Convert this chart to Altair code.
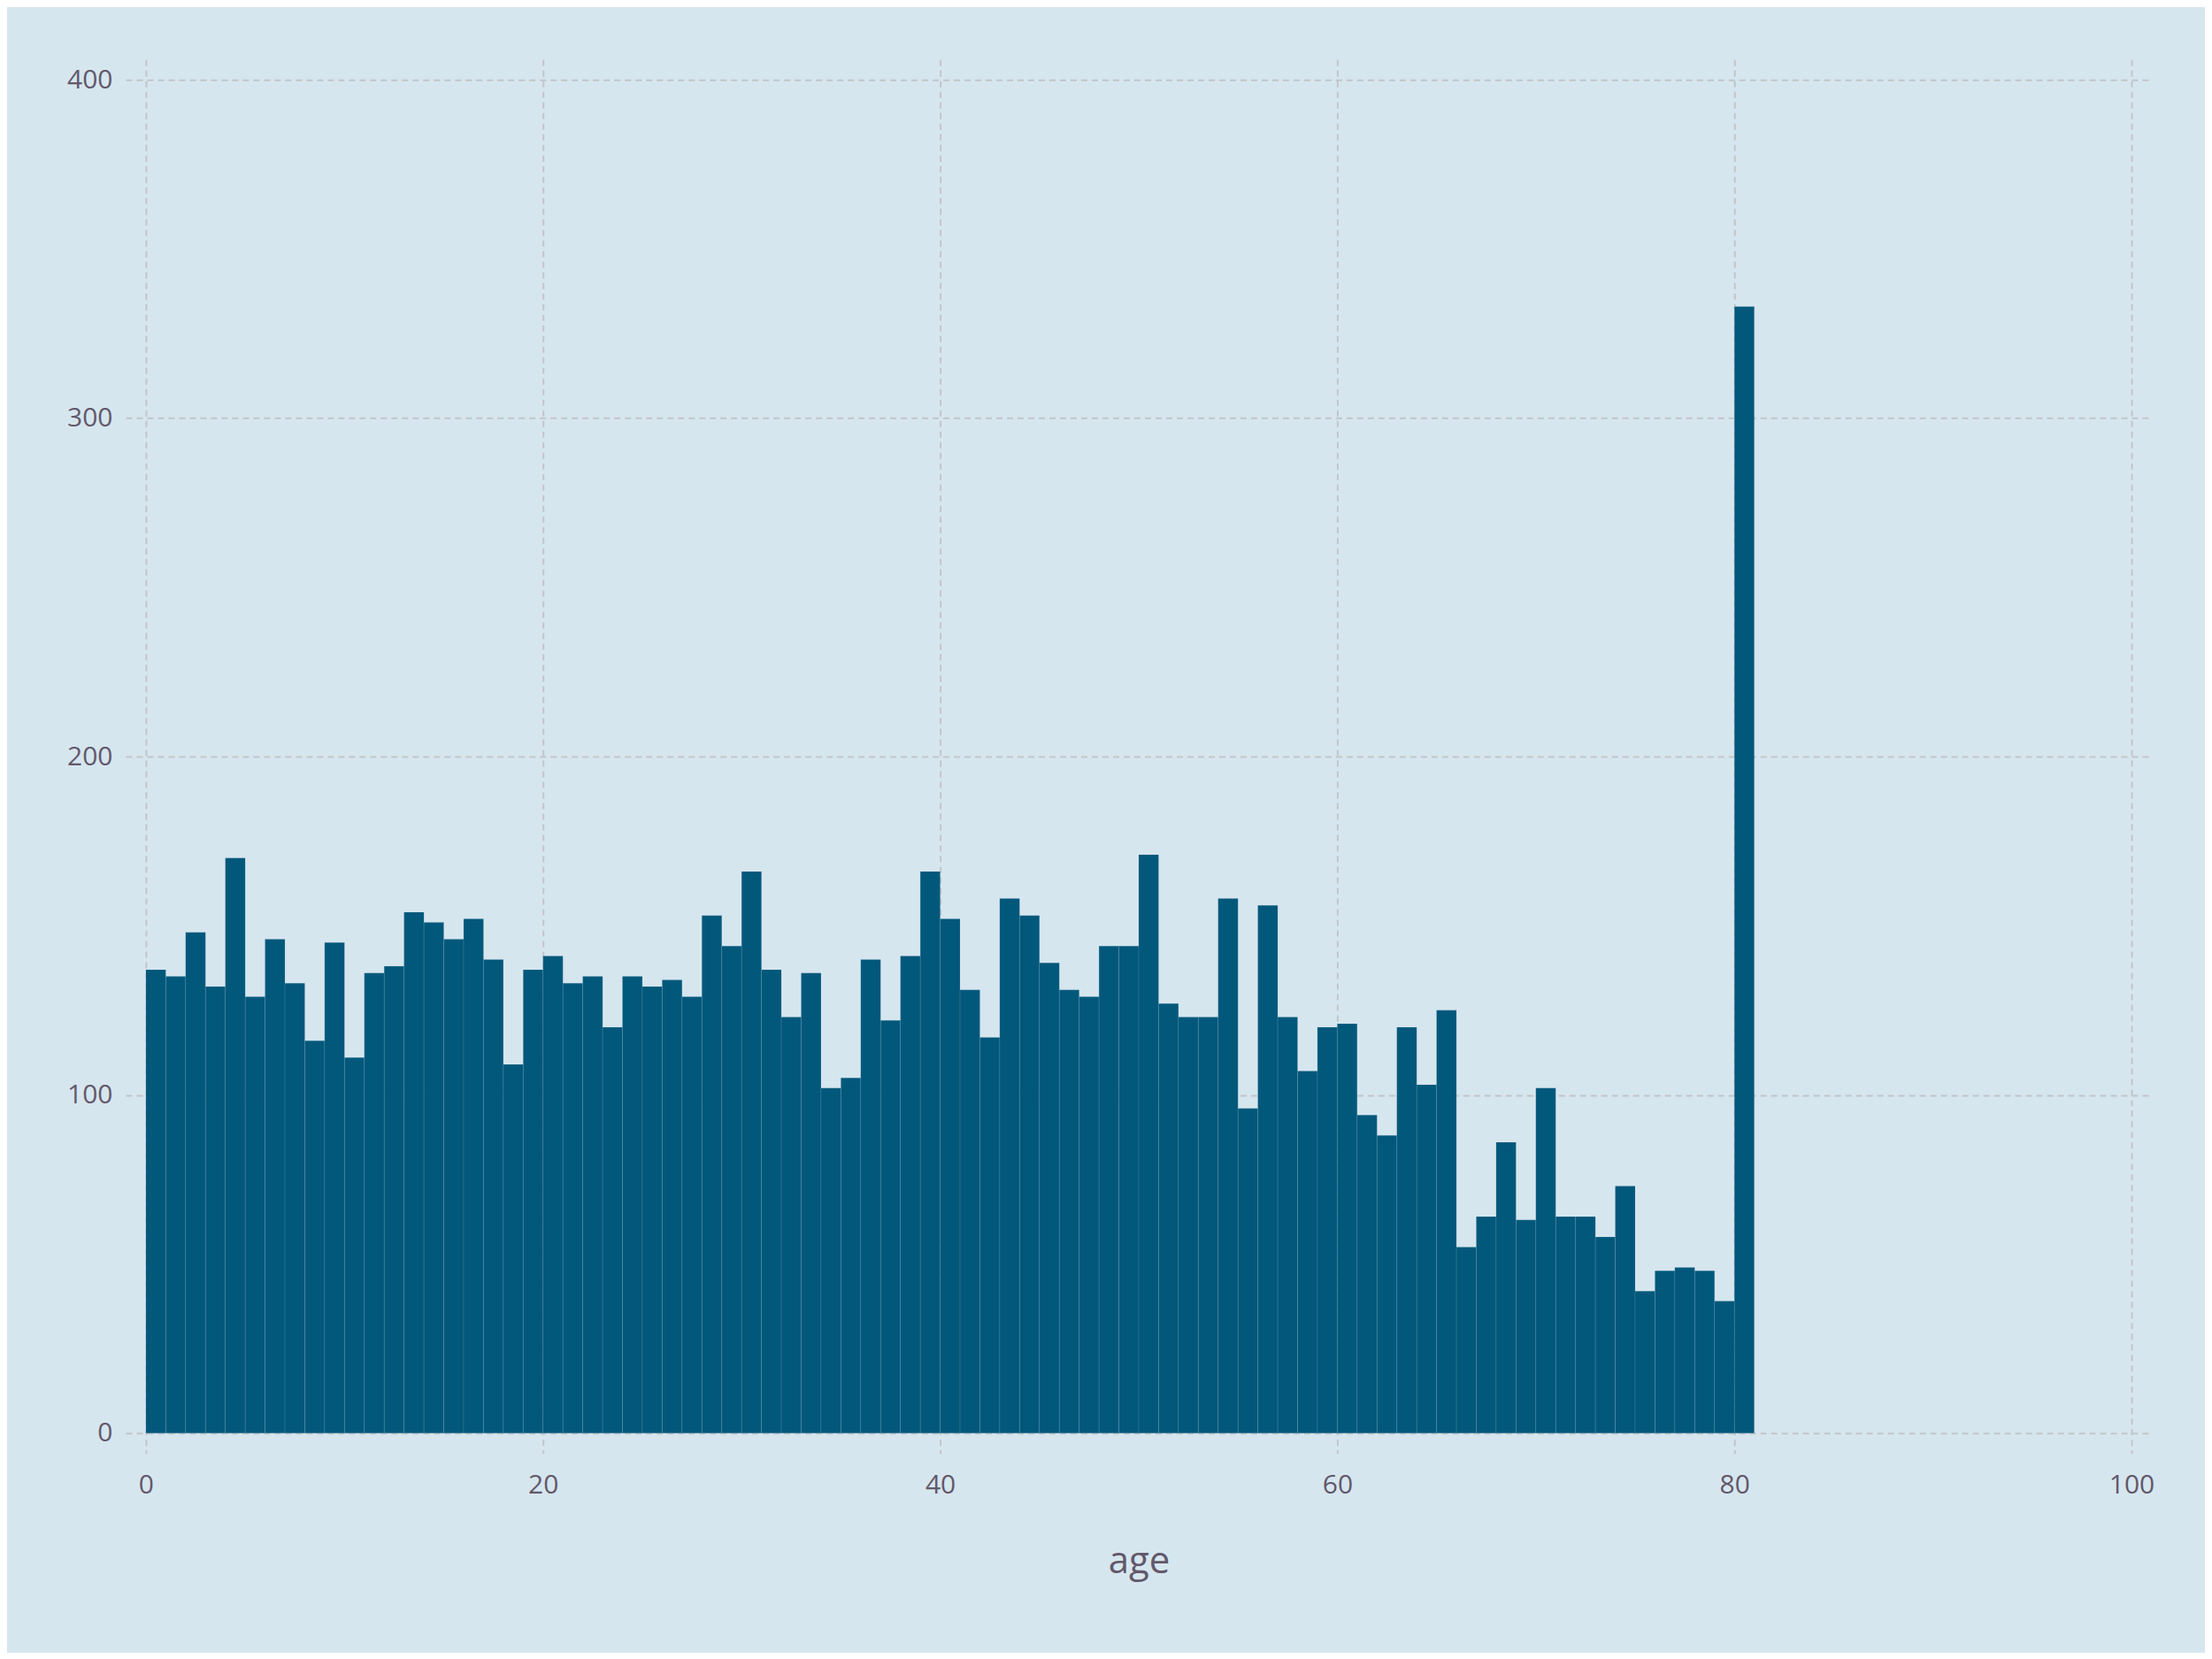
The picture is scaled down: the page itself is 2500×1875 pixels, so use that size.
import altair as alt
import pandas as pd

# Histogram of age: bins of width 1 starting at 0
bin_start = list(range(0, 81))
counts = [
    137, 135, 148, 132, 170, 129, 146, 133, 116, 145,
    111, 136, 138, 154, 151, 146, 152, 140, 109, 137,
    141, 133, 135, 120, 135, 132, 134, 129, 153, 144,
    166, 137, 123, 136, 102, 105, 140, 122, 141, 166,
    152, 131, 117, 158, 153, 139, 131, 129, 144, 144,
    171, 127, 123, 123, 158, 96, 156, 123, 107, 120,
    121, 94, 88, 120, 103, 125, 55, 64, 86, 63,
    102, 64, 64, 58, 73, 42, 48, 49, 48, 39,
    333,
]
x_ticks = [0, 20, 40, 60, 80, 100]
y_ticks = [0, 100, 200, 300, 400]

df = pd.DataFrame({
    "bin_start": bin_start,
    "bin_end": [b + 1 for b in bin_start],
    "count": counts,
})

label_color = "#62586a"

bars = alt.Chart(df).mark_bar(
    color="#02587b", stroke="#9fbfd0", strokeWidth=0.6, strokeOpacity=0.25
).encode(
    x=alt.X(
        "bin_start:Q",
        scale=alt.Scale(domain=[-1.024, 101.024], nice=False, zero=False),
        axis=alt.Axis(
            values=x_ticks, title="age", labelPadding=21,
            titleY=135, titleBaseline="alphabetic",
        ),
    ),
    x2="bin_end:Q",
    y=alt.Y(
        "count:Q",
        scale=alt.Scale(domain=[-6.01, 406.01], nice=False, zero=False),
        axis=alt.Axis(values=y_ticks, title=None, labelPadding=15),
    ),
    y2=alt.datum(0),
)

chart = bars.properties(
    width=2291,
    height=1576,
    background="#d6e6ef",
    padding={"left": 134, "top": 59, "right": 60, "bottom": 225},
    autosize=alt.AutoSizeParams(type="none"),
).configure_view(
    stroke=None,
).configure_axis(
    labelFont="Open Sans",
    labelFontSize=30,
    labelColor=label_color,
    titleFont="Open Sans",
    titleFontSize=42,
    titleFontWeight="normal",
    titleColor=label_color,
    gridColor="#c2c5c8",
    gridDash=[7, 5],
    gridWidth=2,
    domain=False,
    ticks=False,
    tickSize=0,
)

chart.save("out.html", embed_options={"renderer": "svg", "actions": False})
